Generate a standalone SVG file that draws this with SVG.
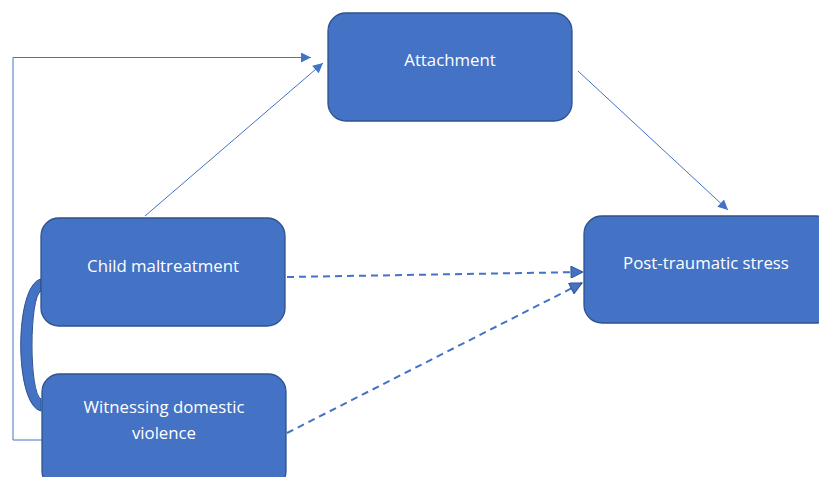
<svg xmlns="http://www.w3.org/2000/svg" width="819" height="477" viewBox="0 0 819 477">
<style>
.box{fill:#4472C4;stroke:#2F528F;stroke-width:1.3}
.lbl{font-family:"Open Sans","Liberation Sans",sans-serif;font-size:16.8px;fill:#FFFFFF;text-anchor:middle}
.thin{fill:none;stroke:#4472C4;stroke-width:1}
.dash{fill:none;stroke:#4472C4;stroke-width:2;stroke-dasharray:7 5}
</style>
<defs>
<marker id="ah" viewBox="0 0 10 10" refX="10" refY="5" markerWidth="12" markerHeight="10" markerUnits="userSpaceOnUse" orient="auto">
<path d="M0,0 L10,5 L0,10 Z" fill="#4472C4"/>
</marker>
<marker id="ahd" viewBox="0 0 10 10" refX="10" refY="5" markerWidth="7" markerHeight="6" orient="auto">
<path d="M0,0 L10,5 L0,10 Z" fill="#4472C4" stroke="#2F528F" stroke-width="0.8"/>
</marker>
</defs>
<g id="connectors">
<path class="thin" d="M42,440 L13,440 L13,57.5 L311,57.5" marker-end="url(#ah)"/>
<path class="thin" d="M145,216 L323,63" marker-end="url(#ah)"/>
<path class="thin" d="M578,71 L728,210" marker-end="url(#ah)"/>
<path class="dash" d="M287,277 L583,272" marker-end="url(#ahd)"/>
<path class="dash" d="M287,433 L582,283" marker-end="url(#ahd)"/>
<path d="M41,279 C14,285 14,405 41,411 L41,399 C29,394 29,296 41,291 Z" fill="#4472C4" stroke="#2F528F" stroke-width="1"/>
</g>
<g id="attachment">
<rect class="box" x="328" y="13" width="244" height="108" rx="18"/>
<text class="lbl" x="450" y="66">Attachment</text>
</g>
<g id="child">
<rect class="box" x="41" y="218" width="244" height="108" rx="18"/>
<text class="lbl" x="163" y="272">Child maltreatment</text>
</g>
<g id="witness">
<rect class="box" x="42" y="374" width="244" height="115" rx="18"/>
<text class="lbl" x="164" y="413">Witnessing domestic</text>
<text class="lbl" x="164" y="439">violence</text>
</g>
<g id="pts">
<rect class="box" x="584" y="216" width="250" height="107" rx="18"/>
<text class="lbl" x="706" y="269">Post-traumatic stress</text>
</g>
</svg>
